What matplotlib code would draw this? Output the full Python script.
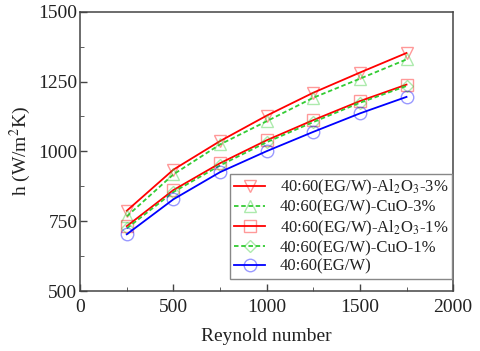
import matplotlib
matplotlib.use('Agg')
import matplotlib.pyplot as plt
from matplotlib.ticker import MultipleLocator

plt.rcParams['font.family'] = ['Liberation Serif', 'DejaVu Serif']
plt.rcParams['mathtext.fontset'] = 'stix'

# Données
reynolds = [250, 500, 750, 1000, 1250, 1500, 1750]
al2o3_3 = [788, 935, 1037, 1128, 1210, 1282, 1352]
cuo_3 = [768, 918, 1025, 1108, 1192, 1260, 1329]
al2o3_1 = [733, 862, 958, 1040, 1112, 1180, 1239]
cuo_1 = [725, 855, 950, 1033, 1105, 1174, 1234]
eg_w = [704, 829, 926, 1001, 1070, 1136, 1195]

labels = ['40:60(EG/W)-Al$_2$O$_3$-3%', '40:60(EG/W)-CuO-3%',
          '40:60(EG/W)-Al$_2$O$_3$-1%', '40:60(EG/W)-CuO-1%', '40:60(EG/W)']

fig = plt.figure(figsize=(4.8, 3.51), dpi=100)
ax = fig.add_axes([0.167, 0.17, 0.777, 0.797])

series = [
    (al2o3_3, 'red', '-', 'v', labels[0]),
    (cuo_3, '#33cc33', '--', '^', labels[1]),
    (al2o3_1, 'red', '-', 's', labels[2]),
    (cuo_1, '#33cc33', '--', 'D', labels[3]),
    (eg_w, 'blue', '-', 'o', labels[4]),
]
for ys, c, ls, m, lab in series:
    ms = 6 if m == 'D' else 9
    ax.plot(reynolds, ys, color=c, ls=ls, lw=1.3, marker=m, ms=ms,
            mfc='none', mec=matplotlib.colors.to_rgba(c, 0.4), mew=1.0,
            label=lab, dashes=(2.5, 1.5) if ls == '--' else (None, None))

ax.set_xlim(0, 2000)
ax.set_ylim(500, 1500)
ax.xaxis.set_major_locator(MultipleLocator(500))
ax.xaxis.set_minor_locator(MultipleLocator(250))
ax.yaxis.set_major_locator(MultipleLocator(250))
ax.yaxis.set_minor_locator(MultipleLocator(125))
for s in ax.spines.values():
    s.set_color('#444444')
    s.set_linewidth(1.1)
ax.tick_params(direction='in', labelsize=14, length=5, width=1,
               pad=2, color='#444444', labelcolor='#222222')
ax.tick_params(axis='x', pad=5.5)
ax.tick_params(which='minor', direction='in', length=3, color='#444444')
ax.set_xlabel('Reynold number', fontsize=14, color='#222222', labelpad=9)
ax.set_ylabel('h (W/m$^2$K)', fontsize=14, color='#222222', labelpad=4)

leg = ax.legend(loc='lower right', bbox_to_anchor=(0.998, 0.045), fontsize=12,
                fancybox=False, framealpha=1, handlelength=1.9,
                borderpad=0.25, labelspacing=0.15, handletextpad=0.85,
                borderaxespad=0)
leg.get_frame().set_edgecolor('#888888')
for t in leg.get_texts():
    t.set_color('#222222')

fig.savefig('out.png', dpi=100)
